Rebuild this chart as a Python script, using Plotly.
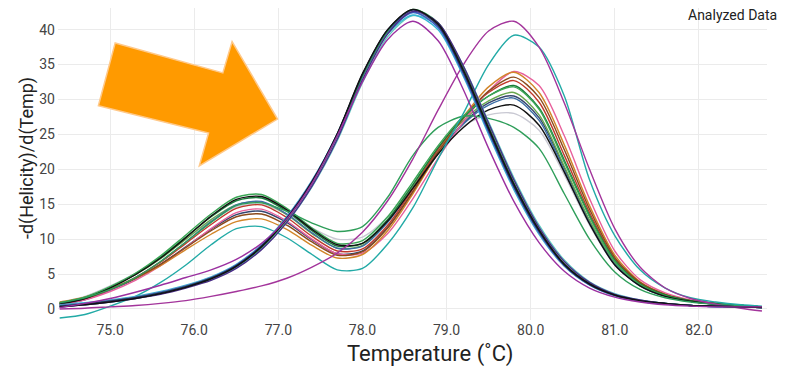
import plotly.graph_objects as go

# Temperature grid (°C)
temps = [74.4, 74.7, 75.0, 75.3, 75.6, 75.9, 76.2, 76.5, 76.8, 77.1, 77.4, 77.7, 78.0, 78.3,
         78.6, 78.9, 79.2, 79.5, 79.8, 80.1, 80.4, 80.7, 81.0, 81.3, 81.6, 81.9, 82.2, 82.5, 82.75]

# Two-peak melt curves
a_black = [0.7, 1.5, 3.0, 4.9, 7.3, 10.2, 13.3, 15.7, 16.1, 14.2, 11.4, 9.2, 9.4, 12.6, 17.3, 22.2, 26.0, 28.5, 29.2, 26.3, 19.6, 12.2, 6.3, 3.3, 1.8, 1.1, 0.7, 0.5, 0.3]
a_green = [0.9, 1.7, 3.2, 5.1, 7.6, 10.6, 13.6, 16.0, 16.4, 14.4, 11.6, 9.4, 9.8, 13.2, 18.2, 23.4, 27.6, 30.5, 31.8, 28.6, 21.0, 13.2, 6.8, 3.5, 1.9, 1.1, 0.7, 0.5, 0.3]
a_dkgreen = [0.8, 1.6, 3.1, 5.0, 7.4, 10.3, 13.2, 15.5, 15.9, 14.0, 11.2, 9.0, 9.4, 12.8, 17.8, 23.1, 27.4, 30.5, 32.0, 28.8, 21.3, 13.4, 7.0, 3.6, 2.0, 1.2, 0.8, 0.5, 0.3]
a_brown = [0.8, 1.5, 2.8, 4.4, 6.4, 8.8, 11.2, 13.2, 13.6, 12.0, 9.6, 7.7, 8.2, 11.6, 16.8, 22.5, 27.3, 31.2, 33.2, 30.3, 22.8, 14.3, 7.4, 3.8, 2.1, 1.2, 0.8, 0.5, 0.3]
a_orange = [1.0, 1.7, 2.9, 4.4, 6.2, 8.5, 10.7, 12.5, 12.9, 11.4, 9.1, 7.3, 7.8, 11.2, 16.5, 22.4, 27.5, 31.8, 33.9, 31.0, 23.5, 14.8, 7.7, 3.9, 2.1, 1.2, 0.8, 0.5, 0.3]
a_pink = [0.6, 1.3, 2.5, 4.1, 6.2, 8.8, 11.5, 13.8, 14.3, 12.6, 10.0, 7.9, 8.0, 10.8, 15.8, 21.6, 26.8, 31.2, 34.0, 32.0, 24.8, 15.8, 8.3, 4.2, 2.3, 1.3, 0.8, 0.5, 0.3]
a_red = [0.7, 1.4, 2.8, 4.5, 6.7, 9.4, 12.1, 14.4, 14.9, 13.1, 10.4, 8.3, 8.6, 12.0, 17.2, 22.9, 27.6, 31.0, 32.7, 29.6, 22.0, 13.8, 7.2, 3.7, 2.0, 1.2, 0.8, 0.5, 0.3]
a_steel = [0.6, 1.3, 2.7, 4.5, 6.8, 9.6, 12.5, 14.9, 15.4, 13.6, 10.9, 8.7, 9.0, 12.4, 17.3, 22.5, 26.5, 29.2, 30.2, 27.0, 19.8, 12.3, 6.4, 3.3, 1.8, 1.1, 0.7, 0.4, 0.3]
a_grey = [1.0, 1.8, 3.3, 5.1, 7.4, 10.0, 12.6, 14.6, 15.0, 13.6, 11.6, 10.0, 10.3, 13.2, 17.8, 22.6, 26.2, 27.8, 28.0, 25.6, 19.2, 12.0, 6.3, 3.3, 1.8, 1.1, 0.7, 0.5, 0.3]
a_olive = [0.9, 1.7, 3.1, 4.9, 7.2, 10.0, 12.8, 14.9, 15.3, 13.5, 10.8, 8.7, 9.1, 12.6, 17.6, 22.9, 27.0, 29.8, 31.0, 27.8, 20.4, 12.7, 6.6, 3.4, 1.9, 1.1, 0.7, 0.5, 0.3]
a_slate = [0.7, 1.4, 2.7, 4.3, 6.4, 8.9, 11.4, 13.5, 14.0, 12.4, 9.9, 7.9, 8.3, 11.7, 16.8, 22.3, 26.6, 29.5, 30.5, 27.4, 20.2, 12.6, 6.5, 3.4, 1.9, 1.1, 0.7, 0.5, 0.3]

# Outlier curves
s_teal = [-1.3, -0.8, 0.4, 1.8, 3.8, 6.3, 9.2, 11.5, 11.8, 10.2, 7.8, 5.6, 5.8, 9.3, 14.5, 21.5, 28.0, 35.0, 39.2, 37.5, 30.5, 18.5, 10.5, 5.6, 3.0, 1.6, 1.0, 0.6, 0.4]
s_green = [0.9, 1.6, 2.8, 4.5, 6.8, 9.6, 12.4, 14.8, 15.2, 14.0, 12.3, 11.1, 11.8, 16.0, 22.0, 26.0, 27.6, 27.3, 26.0, 23.0, 16.5, 10.0, 5.3, 2.8, 1.6, 1.0, 0.7, 0.5, 0.3]
s_magenta = [0.0, 0.1, 0.3, 0.5, 0.8, 1.2, 1.8, 2.5, 3.3, 4.4, 6.0, 8.0, 11.0, 15.5, 21.5, 28.5, 35.0, 39.8, 41.2, 37.5, 29.5, 20.0, 11.5, 6.0, 3.0, 1.5, 0.7, 0.1, -0.3]

# Single-peak melt curves
b_black = [0.3, 0.6, 1.0, 1.5, 2.2, 3.1, 4.3, 6.1, 8.9, 12.9, 18.2, 25.1, 33.7, 40.0, 42.9, 40.8, 34.2, 25.9, 17.9, 11.3, 6.4, 3.6, 2.0, 1.2, 0.8, 0.5, 0.4, 0.3, 0.2]
b_purple = [0.3, 0.6, 1.0, 1.5, 2.1, 3.0, 4.1, 5.8, 8.5, 12.4, 17.6, 24.3, 32.8, 39.4, 42.6, 41.0, 34.8, 26.6, 18.5, 11.7, 6.8, 3.8, 2.1, 1.3, 0.8, 0.5, 0.4, 0.3, 0.2]
b_blue = [0.5, 0.8, 1.2, 1.7, 2.4, 3.3, 4.5, 6.3, 9.1, 13.1, 18.3, 25.0, 33.4, 39.7, 42.5, 40.3, 33.6, 25.3, 17.4, 10.9, 6.2, 3.5, 1.9, 1.1, 0.7, 0.5, 0.3, 0.3, 0.2]
b_cyan = [0.6, 0.9, 1.3, 1.8, 2.5, 3.4, 4.6, 6.4, 9.2, 13.2, 18.4, 25.1, 33.3, 39.4, 42.1, 40.0, 33.3, 25.0, 17.1, 10.7, 6.1, 3.4, 1.9, 1.1, 0.7, 0.5, 0.3, 0.3, 0.2]
b_ltteal = [0.4, 0.7, 1.1, 1.6, 2.2, 3.1, 4.2, 5.9, 8.6, 12.4, 17.5, 24.1, 32.4, 39.0, 42.0, 40.6, 34.8, 26.8, 18.8, 12.0, 7.0, 3.9, 2.2, 1.3, 0.8, 0.5, 0.4, 0.3, 0.2]
b_grey = [0.5, 0.8, 1.2, 1.7, 2.4, 3.3, 4.5, 6.3, 9.1, 13.1, 18.3, 25.0, 33.4, 39.8, 42.6, 40.4, 33.7, 25.4, 17.4, 10.9, 6.2, 3.5, 1.9, 1.1, 0.7, 0.5, 0.3, 0.3, 0.2]
b_ltblue = [0.3, 0.6, 1.0, 1.5, 2.2, 3.1, 4.3, 6.0, 8.8, 12.8, 18.0, 24.7, 33.1, 39.5, 42.4, 40.4, 33.9, 25.7, 17.7, 11.2, 6.4, 3.6, 2.0, 1.2, 0.8, 0.5, 0.4, 0.3, 0.2]
b_magenta = [0.2, 0.8, 1.5, 2.4, 3.4, 4.5, 5.6, 7.1, 9.4, 12.9, 18.0, 24.8, 32.5, 38.6, 41.2, 38.4, 31.4, 23.0, 15.4, 9.5, 5.4, 3.0, 1.7, 1.0, 0.6, 0.4, 0.3, 0.3, 0.3]
b_navy = [0.4, 0.7, 1.1, 1.6, 2.3, 3.2, 4.4, 6.2, 9.0, 13.0, 18.2, 25.0, 33.6, 40.0, 42.8, 40.6, 33.9, 25.6, 17.6, 11.1, 6.3, 3.5, 2.0, 1.2, 0.8, 0.5, 0.4, 0.3, 0.2]
b_green = [0.4, 0.7, 1.1, 1.6, 2.3, 3.2, 4.4, 6.1, 8.8, 12.8, 18.0, 24.8, 33.3, 39.8, 42.9, 41.0, 34.5, 26.2, 18.1, 11.4, 6.5, 3.6, 2.0, 1.2, 0.8, 0.5, 0.4, 0.3, 0.2]

x_ticks = [75, 76, 77, 78, 79, 80, 81, 82]
x_tick_labels = ["75.0", "76.0", "77.0", "78.0", "79.0", "80.0", "81.0", "82.0"]
y_ticks = [0, 5, 10, 15, 20, 25, 30, 35, 40]

series = [
    (a_grey, "#c9c9d3"), (a_slate, "#34456e"), (a_olive, "#6aa84f"), (a_steel, "#3b6ea5"),
    (a_red, "#c0392b"), (a_pink, "#e8609c"), (a_orange, "#d2862a"), (a_brown, "#8b4a1c"),
    (a_dkgreen, "#1b7a3a"), (a_green, "#3aa655"), (a_black, "#111111"),
    (s_green, "#2f9e5a"), (s_teal, "#22aaa6"), (s_magenta, "#a3349b"),
    (b_ltteal, "#5fc9c0"), (b_cyan, "#35b5d5"), (b_ltblue, "#6fa8dc"), (b_grey, "#a8a8a8"),
    (b_blue, "#3d5fc4"), (b_green, "#2e9e4f"), (b_navy, "#1f2a5a"), (b_purple, "#4a2c86"),
    (b_black, "#111111"), (b_magenta, "#9b30a0"),
]

fig = go.Figure()
for vals, col in series:
    fig.add_trace(go.Scatter(x=temps, y=vals, mode="lines",
                             line=dict(color=col, width=1.4, shape="spline", smoothing=0.8),
                             showlegend=False, hoverinfo="skip"))

# Orange arrow
arrow = [(75.06, 38.1), (76.34, 33.8), (76.45, 38.3), (76.99, 27.2),
         (76.06, 20.5), (76.17, 25.2), (74.86, 29.1)]
path = "M " + " L ".join(f"{x},{y}" for x, y in arrow) + " Z"
fig.add_shape(type="path", path=path, xref="x", yref="y",
              fillcolor="#ff9a00", line=dict(color="#ffc98a", width=1.5), layer="above")

fig.update_layout(
    width=780, height=360,
    margin=dict(l=50, r=21, t=0, b=48),
    paper_bgcolor="white", plot_bgcolor="white",
    font=dict(family="Roboto", color="#333333"),
    xaxis=dict(range=[74.38, 82.81], tickvals=x_ticks, ticktext=x_tick_labels,
               showgrid=True, gridcolor="#ebebeb", gridwidth=1, zeroline=False,
               showline=False, ticks="", tickfont=dict(size=14, color="#444444")),
    yaxis=dict(range=[-1.58, 43.1], tickvals=y_ticks,
               showgrid=True, gridcolor="#ebebeb", gridwidth=1, zeroline=False,
               showline=False, ticks="", tickfont=dict(size=14, color="#444444"),
               ticklabelstandoff=2),
    annotations=[
        dict(text="Temperature (˚C)", xref="paper", yref="paper", x=0.5247, y=-0.11,
             xanchor="center", yanchor="middle", showarrow=False,
             font=dict(size=22, color="#222222")),
        dict(text="-d(Helicity)/d(Temp)", xref="paper", yref="paper", x=-0.0437, y=0.519,
             xanchor="center", yanchor="middle", showarrow=False, textangle=-90,
             font=dict(size=18, color="#222222")),
        dict(text="Analyzed Data", xref="paper", yref="paper", x=1.017, y=0.9776,
             xanchor="right", yanchor="middle", showarrow=False,
             font=dict(size=14, color="#222222")),
    ],
)

fig.write_html("out.html")
